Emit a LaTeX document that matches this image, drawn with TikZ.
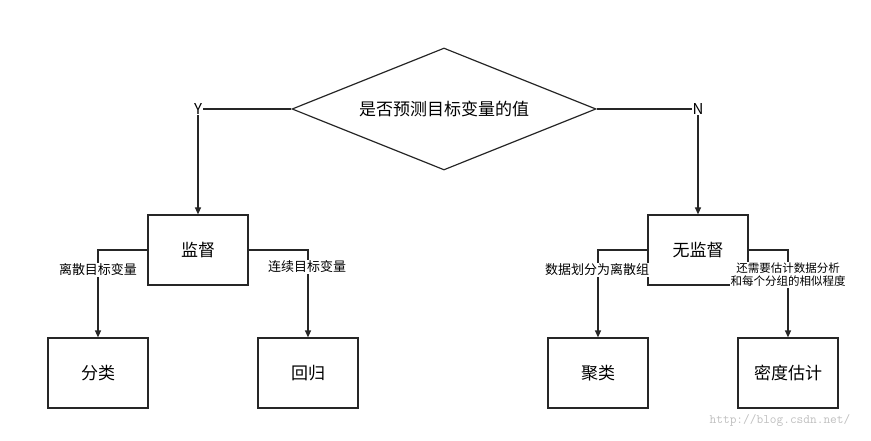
\documentclass[tikz,border=0pt]{standalone}
\usepackage{fontspec}
\setmainfont{Noto Sans CJK SC}
\usetikzlibrary{shapes.geometric,arrows.meta}
\begin{document}
\begin{tikzpicture}[x=1pt,y=-1pt,
  box/.style={draw=black!85,line width=1.2pt,minimum width=100pt,minimum height=70pt,inner sep=0pt,font=\fontsize{17}{20}\selectfont},
  conn/.style={draw=black!85,line width=1.2pt,-{Triangle[length=7pt,width=6pt]}},
  lab/.style={fill=white,inner sep=1pt,font=\fontsize{13}{15}\selectfont},
  slab/.style={fill=white,inner sep=1pt,align=center,font=\fontsize{11.5}{13}\selectfont}]
\useasboundingbox (0,0) rectangle (871,441);
\node[draw=black!85,line width=1.2pt,diamond,aspect=2.5,minimum width=304pt,minimum height=122pt,inner sep=0pt,font=\fontsize{17}{20}\selectfont] (d) at (444,109) {是否预测目标变量的值};
\node[box] (s) at (198,250) {监督};
\node[box] (u) at (698,250) {无监督};
\node[box] (c1) at (98,373) {分类};
\node[box] (c2) at (308,373) {回归};
\node[box] (c3) at (598,373) {聚类};
\node[box] (c4) at (788,373) {密度估计};
\coordinate (yl) at (198,109);
\coordinate (nl) at (698,109);
\draw[conn] (d.west) -- (yl) -- (s.north);
\draw[conn] (d.east) -- (nl) -- (u.north);
\node[fill=white,inner sep=1pt,font=\fontsize{15}{17}\selectfont] at (yl) {Y};
\node[fill=white,inner sep=1pt,font=\fontsize{15}{17}\selectfont] at (nl) {N};
\draw[conn] (s.west) -| (c1.north);
\draw[conn] (s.east) -| (c2.north);
\draw[conn] (u.west) -| (c3.north);
\draw[conn] (u.east) -| (c4.north);
\node[lab] at (98,270) {离散目标变量};
\node[lab] at (307,267) {连续目标变量};
\node[lab] at (597,270) {数据划分为离散组};
\node[slab] at (788,275) {还需要估计数据分析\\和每个分组的相似程度};
\node[text=black!25,font=\fontsize{13}{15}\selectfont\ttfamily] at (780,420) {http://blog.csdn.net/};
\end{tikzpicture}
\end{document}
